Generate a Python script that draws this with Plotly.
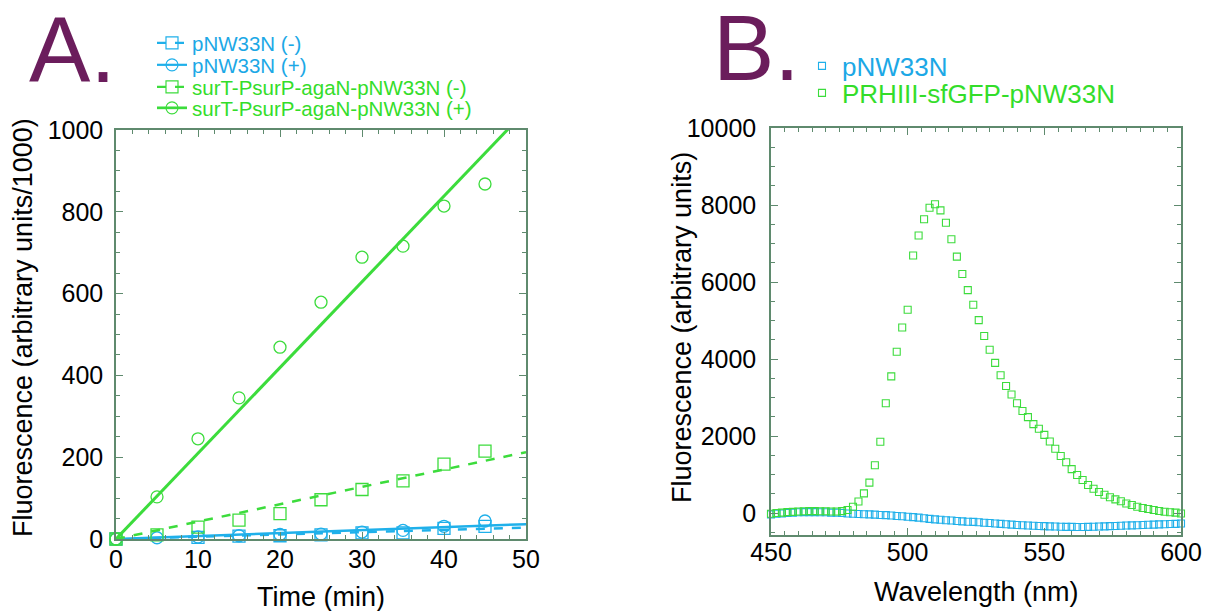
import numpy as np
import plotly.graph_objects as go

# ---------------- Panel A data ----------------
time_min = [0, 5, 10, 15, 20, 25, 30, 35, 40, 45]
pnw_minus = [0, -2, 4, 7, 8, 10, 15, 15, 26, 31]
pnw_plus = [0, 3, 5, 8, 11, 12, 17, 21, 31, 44]
sur_minus = [0, 10, 29, 46, 62, 96, 121, 142, 183, 215]
sur_plus = [0, 103, 245, 345, 469, 579, 689, 716, 814, 868]
fit_x = [0, 50]

# ---------------- Panel B data ----------------
wavelength = list(range(450, 601, 2))
gfp_spec = [-20, 0, 10, 25, 30, 40, 45, 50, 50, 45,
            45, 40, 40, 50, 80, 165, 300, 510, 790, 1240,
            1850, 2850, 3550, 4190, 4820, 5280, 6690, 7210, 7630, 7930,
            8020, 7860, 7540, 7110, 6660, 6210, 5790, 5410, 5010, 4600,
            4240, 3900, 3580, 3300, 3080, 2850, 2650, 2490, 2310, 2190,
            2030, 1860, 1670, 1480, 1320, 1140, 990, 860, 730, 630,
            545, 475, 410, 355, 305, 250, 210, 165, 130, 105,
            80, 55, 35, 20, 10, -10]
pnw_spec = [-35, -20, -10, 0, 10, 20, 25, 25, 25, 20,
            20, 10, 10, 0, -10, -20, -25, -30, -35, -40,
            -50, -55, -65, -75, -85, -95, -105, -120, -135, -150,
            -165, -175, -185, -195, -205, -215, -225, -230, -240, -250,
            -260, -270, -280, -290, -300, -310, -318, -325, -330, -335,
            -340, -345, -350, -355, -358, -360, -362, -362, -360, -355,
            -350, -345, -340, -335, -330, -325, -320, -315, -310, -305,
            -300, -295, -290, -285, -280, -270]

legend_a = ["pNW33N (-)", "pNW33N (+)", "surT-PsurP-agaN-pNW33N (-)", "surT-PsurP-agaN-pNW33N (+)"]
legend_b = ["pNW33N", "PRHIII-sfGFP-pNW33N"]

BLUE = "#1fb0ea"
GREEN = "#3cdc3c"
BLUE_T = "#1ca8e6"
GREEN_T = "#33dd2a"
PURPLE = "#6b1d5c"
AX = "#5f8a6e"
FONT = "Liberation Sans, Arial, sans-serif"
W, H = 1205, 611


def origin_fit(x, y):
    x = np.asarray(x, float)
    y = np.asarray(y, float)
    s = (x * y).sum() / (x * x).sum()
    return s * np.asarray(fit_x, float)


fig = go.Figure()

series = [
    (pnw_minus, BLUE, "square-open", "dash", 2.5, legend_a[0], "legend"),
    (pnw_plus, BLUE, "circle-open", "solid", 2.5, legend_a[1], "legend2"),
    (sur_minus, GREEN, "square-open", "dash", 2.5, legend_a[2], "legend3"),
    (sur_plus, GREEN, "circle-open", "solid", 3, legend_a[3], "legend4"),
]
for vals, col, sym, dash, lw, name, lg in series:
    fig.add_trace(go.Scatter(x=fit_x, y=origin_fit(time_min, vals), mode="lines",
                             line=dict(color=col, width=lw, dash=dash),
                             showlegend=False, xaxis="x", yaxis="y"))
    fig.add_trace(go.Scatter(x=time_min, y=vals, mode="markers",
                             marker=dict(symbol=sym, size=12, color=col, line=dict(width=1.3, color=col)),
                             showlegend=False, cliponaxis=False, xaxis="x", yaxis="y"))
    fig.add_trace(go.Scatter(x=[None], y=[None], mode="lines+markers", name=name,
                             line=dict(color=col, width=lw - 0.3, dash=dash),
                             marker=dict(symbol=sym, size=12, color=col, line=dict(width=1.2, color=col)),
                             legend=lg, xaxis="x", yaxis="y"))

for vals, col, name, lg in [(pnw_spec, BLUE, legend_b[0], "legend5"),
                            (gfp_spec, GREEN, legend_b[1], "legend6")]:
    fig.add_trace(go.Scatter(x=wavelength, y=vals, mode="markers", name=name,
                             marker=dict(symbol="square-open", size=7, color=col, line=dict(width=1.1, color=col)),
                             cliponaxis=False, legend=lg, xaxis="x2", yaxis="y2"))


def yfrac(px):
    return 1 - px / H


def xfrac(px):
    return px / W


def leg(xpx, ypx, col, size):
    return dict(x=xfrac(xpx), y=yfrac(ypx), xanchor="left", yanchor="middle",
                font=dict(family=FONT, size=size, color=col),
                bgcolor="rgba(0,0,0,0)", borderwidth=0, itemwidth=30)


def axis(standoff):
    return dict(showgrid=False, zeroline=False, showline=True, linecolor=AX, linewidth=1.5,
                mirror="ticks", ticks="inside", ticklen=7, tickwidth=1.2, tickcolor=AX,
                automargin=False, tickformat="d",
                tickfont=dict(family=FONT, size=25, color="black"), ticklabelstandoff=standoff)


fig.update_layout(
    template="none",
    width=W, height=H, margin=dict(l=0, r=0, t=0, b=0, autoexpand=False),
    paper_bgcolor="white", plot_bgcolor="white",
    xaxis=dict(domain=[xfrac(116), xfrac(526)], range=[0, 50], dtick=10, tick0=0,
               minor=dict(dtick=2, ticks="inside", ticklen=4, tickcolor=AX), anchor="y", **axis(-3)),
    yaxis=dict(domain=[yfrac(539), yfrac(130)], range=[0, 1000], dtick=200, tick0=0,
               minor=dict(dtick=50, ticks="inside", ticklen=4, tickcolor=AX), anchor="x", **axis(6)),
    xaxis2=dict(domain=[xfrac(771), xfrac(1181)], range=[450, 600], dtick=50, tick0=450,
                minor=dict(dtick=5, ticks="inside", ticklen=4, tickcolor=AX), anchor="y2", **axis(-6)),
    yaxis2=dict(domain=[yfrac(535), yfrac(128)], range=[-570, 10000], dtick=2000, tick0=0,
                minor=dict(dtick=500, ticks="inside", ticklen=4, tickcolor=AX), anchor="x2", **axis(8)),
    legend=leg(152, 43, BLUE_T, 20.5),
    legend2=leg(152, 65, BLUE_T, 20.5),
    legend3=leg(152, 87, GREEN_T, 20.5),
    legend4=leg(152, 108, GREEN_T, 20.5),
    legend5=leg(802, 66, BLUE_T, 26),
    legend6=leg(802, 93, GREEN_T, 26),
)

ann = [
    dict(text="A.", x=xfrac(72), y=yfrac(50), font=dict(size=92, color=PURPLE)),
    dict(text="B.", x=xfrac(756), y=yfrac(48), font=dict(size=92, color=PURPLE)),
    dict(text="Time (min)", x=xfrac(321), y=yfrac(597), font=dict(size=27, color="black")),
    dict(text="Wavelength (nm)", x=xfrac(976), y=yfrac(592), font=dict(size=27, color="black")),
    dict(text="Fluorescence (arbitrary units/1000)", x=xfrac(23), y=yfrac(328), textangle=-90,
         font=dict(size=27, color="black")),
    dict(text="Fluorescence (arbitrary units)", x=xfrac(682), y=yfrac(328), textangle=-90,
         font=dict(size=27, color="black")),
]
for a in ann:
    a["font"]["family"] = FONT
    fig.add_annotation(xref="paper", yref="paper", showarrow=False, xanchor="center", yanchor="middle", **a)

fig.write_html("out.html", config={"displayModeBar": False},
               post_script="document.body.style.margin='0px';document.body.style.overflow='hidden';")
